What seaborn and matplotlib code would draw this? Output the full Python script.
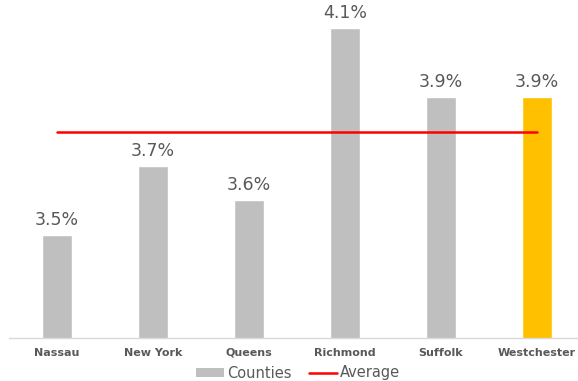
import matplotlib
matplotlib.use("Agg")
import matplotlib.pyplot as plt
import seaborn as sns
import pandas as pd
from matplotlib.patches import Patch
from matplotlib.lines import Line2D

counties = ["Nassau", "New York", "Queens", "Richmond", "Suffolk", "Westchester"]
rates = [3.5, 3.7, 3.6, 4.1, 3.9, 3.9]
average = 3.8
highlight = "Westchester"

sns.set_theme(style="white")
plt.rcParams['font.family'] = ['DejaVu Sans']

df = pd.DataFrame({"county": counties, "rate": rates})
colors = ["#FFC000" if c == highlight else "#BFBFBF" for c in counties]

fig = plt.figure(figsize=(5.78, 3.81), dpi=100)
ax = fig.add_axes([9/578, (381-338)/381, 576/578, 338/381])
sns.barplot(data=df, x="county", y="rate", hue="county", palette=colors,
            width=0.31, legend=False, ax=ax, saturation=1)
sns.lineplot(x=list(range(len(counties))), y=[average]*len(counties),
             color="#FF0000", linewidth=1.8, ax=ax)

ax.set_ylim(3.2, 3.2 + 338/344)
ax.set_xlim(-0.5, 5.5)
for i, v in enumerate(rates):
    ax.text(i, v + 0.018, f"{v:.1f}%", ha="center", va="bottom",
            fontsize=12.5, color="#595959", clip_on=False)

ax.set_xlabel("")
ax.set_ylabel("")
ax.set_yticks([])
ax.tick_params(axis="x", length=0, pad=7)
for lab in ax.get_xticklabels():
    lab.set_fontsize(8)
    lab.set_fontweight("bold")
    lab.set_color("#595959")
for s in ["top", "right", "left"]:
    ax.spines[s].set_visible(False)
ax.spines["bottom"].set_color("#D9D9D9")
ax.spines["bottom"].set_linewidth(1)

handles = [Patch(facecolor="#BFBFBF", edgecolor="none", label="Counties"),
           Line2D([0], [0], color="#FF0000", lw=1.8, label="Average")]
leg = fig.legend(handles=handles, loc="center", bbox_to_anchor=(298/578, 1 - 373/381),
                 ncol=2, frameon=False, fontsize=10.5, handlelength=1.9,
                 handleheight=0.6, columnspacing=1.2, handletextpad=0.2)
for t in leg.get_texts():
    t.set_color("#595959")

fig.savefig("out.png", dpi=100)
